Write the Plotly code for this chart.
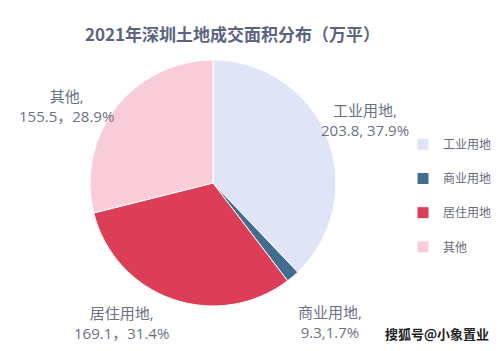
import math
import plotly.graph_objects as go

categories = ["工业用地", "商业用地", "居住用地", "其他"]
values = [203.8, 9.3, 169.1, 155.5]
percents = ["37.9%", "1.7%", "31.4%", "28.9%"]
label_texts = ["工业用地,<br>203.8, 37.9%", "商业用地,<br>9.3,1.7%",
               "居住用地,<br>169.1，31.4%", "其他,<br>155.5，28.9%"]
colors = ["#dfe4f6", "#426d8e", "#dc3d57", "#f9ccd9"]

W, H = 499, 351
FONT = "Noto Sans CJK SC"
LFONT = "Open Sans, Noto Sans CJK SC"
TXT = "#6b7084"

# pie geometry in paper coords
cx, cy, R = 213, 183, 123
dom_y = [1 - (cy + R) / H, 1 - (cy - R) / H]
dom_x = [(cx - R - 20) / W, (cx + R + 20) / W]

legend_labels = [c + "<br><span style='font-size:9px'> </span>" for c in categories]

fig = go.Figure(go.Pie(
    labels=legend_labels, values=values, sort=False, direction="clockwise",
    rotation=0, textinfo="none",
    customdata=categories, hovertemplate="%{customdata}: %{value} (%{percent})<extra></extra>",
    marker=dict(colors=colors, line=dict(color="white", width=1)),
    domain=dict(x=dom_x, y=dom_y),
))

# label positions computed from slice mid-angles (Excel-like best fit offsets)
total = sum(values)
cum = 0
factors = [1.379, 1.484, 1.206, 1.018]
xshift = [-6, -1, -43, -48]
for i, v in enumerate(values):
    mid = (cum + v / 2) / total * 2 * math.pi
    cum += v
    px = cx + math.sin(mid) * R * factors[i] + xshift[i]
    py = cy - math.cos(mid) * R * factors[i]
    fig.add_annotation(x=px / W, y=1 - py / H, xref="paper", yref="paper",
                       text=label_texts[i], showarrow=False, align="center",
                       font=dict(family=LFONT, size=15, color=TXT),
                       xanchor="center", yanchor="middle")

fig.add_annotation(x=232 / W, y=1 - 33 / H, xref="paper", yref="paper",
                   text="<b>2021年深圳土地成交面积分布（万平）</b>", showarrow=False,
                   font=dict(family=FONT, size=17, color="#5d6480"),
                   xanchor="center", yanchor="middle")
fig.add_annotation(x=1 - 8 / W, y=1 - 333 / H, xref="paper", yref="paper",
                   text="<b>搜狐号@小象置业</b>", showarrow=False,
                   font=dict(family=FONT, size=13, color="#222222"),
                   xanchor="right", yanchor="middle")

fig.update_layout(
    width=W, height=H, margin=dict(l=0, r=0, t=0, b=0),
    paper_bgcolor="white", plot_bgcolor="white",
    showlegend=True,
    legend=dict(x=403 / W, y=1 - 130 / H, xanchor="left", yanchor="top",
                valign="top", font=dict(family=FONT, size=12, color="#666a78"),
                itemwidth=30, bgcolor="rgba(0,0,0,0)"),
)

fig.write_html("out.html")
